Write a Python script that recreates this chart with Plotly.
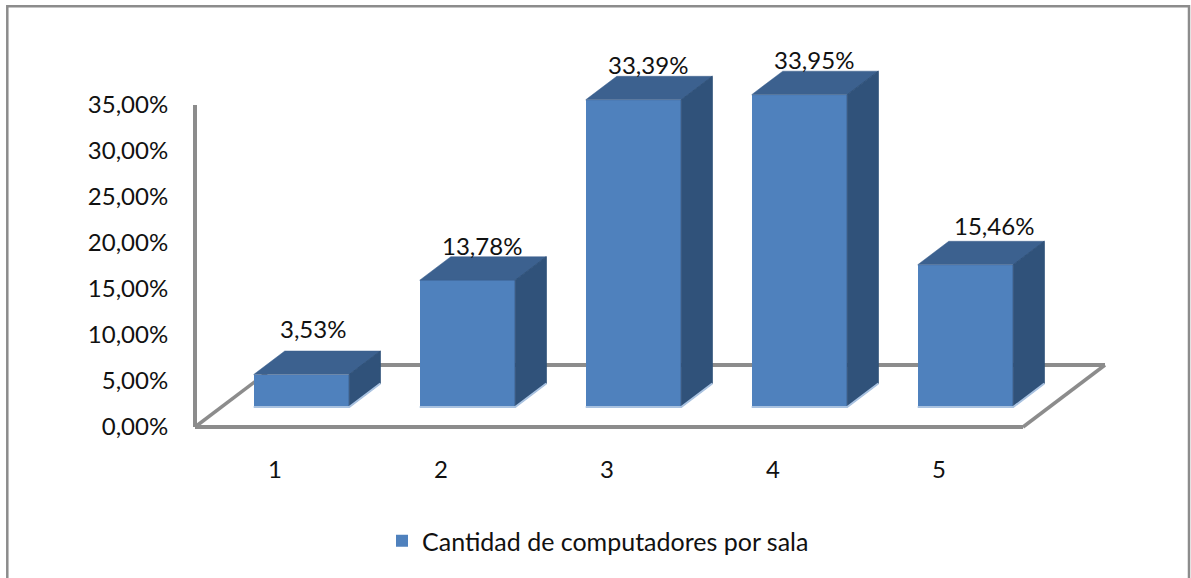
import plotly.graph_objects as go

categories = [1, 2, 3, 4, 5]
values = [3.53, 13.78, 33.39, 33.95, 15.46]
y_ticks = [0, 5, 10, 15, 20, 25, 30, 35]
series_name = "Cantidad de computadores por sala"

# layout constants (pixels)
W, H = 1191, 578
PX_PER_CAT, PX_PER_PCT = 166, 9.2
L, R, T, B = 185, 1115, 45, 435
CAT1_PX, ZERO_PX = 275, 427
FLOOR_DX, FLOOR_DY = 82 / PX_PER_CAT, 62 / PX_PER_PCT  # oblique floor depth in axis units
BAR_W = 95.5 / PX_PER_CAT
D_FRONT, D_BACK = 20 / 62, 43.5 / 62
FLOOR_L, FLOOR_R = 1 - 80 / PX_PER_CAT, 1 + 748 / PX_PER_CAT
# per-label nudges (pixels) of the data labels from the bar's top
label_dx = [12, 15, 15, 15, 29]
label_dy = [46, 35, 35, 35, 39]

FRONT, TOP, SIDE, EDGE, GREY = "#4f81bd", "#3c618f", "#30527a", "#a9c2e0", "#8c8c8c"
FONT = "Lato, Carlito, sans-serif"
FS = 24
TXT = "#111111"

def pct(v):
    return f"{v:.2f}".replace(".", ",") + "%"

def proj(cat, val, depth):
    """Oblique projection of (category, value, depth) onto the 2D axes."""
    return cat + depth * FLOOR_DX, val + depth * FLOOR_DY

def poly(pts):
    xs, ys = zip(*pts)
    return list(xs) + [xs[0], None], list(ys) + [ys[0], None]

top_x, top_y, side_x, side_y, edge_x, edge_y = [], [], [], [], [], []
for c, v in zip(categories, values):
    l, r = c - BAR_W / 2, c + BAR_W / 2
    x, y = poly([proj(l, v, D_FRONT), proj(r, v, D_FRONT), proj(r, v, D_BACK), proj(l, v, D_BACK)])
    top_x += x; top_y += y
    x, y = poly([proj(r, 0, D_FRONT), proj(r, v, D_FRONT), proj(r, v, D_BACK), proj(r, 0, D_BACK)])
    side_x += x; side_y += y
    for p in (proj(l, 0, D_FRONT), proj(r, 0, D_FRONT), proj(r, 0, D_BACK)):
        edge_x.append(p[0]); edge_y.append(p[1])
    edge_x.append(None); edge_y.append(None)

fig = go.Figure()
fig.add_trace(go.Bar(
    x=[proj(c, 0, D_FRONT)[0] for c in categories], y=values,
    base=proj(0, 0, D_FRONT)[1], width=BAR_W,
    marker=dict(color=FRONT, line=dict(width=0)), name=series_name, showlegend=True, hoverinfo="skip",
))
fig.add_trace(go.Scatter(x=top_x, y=top_y, mode="lines", fill="toself", fillcolor=TOP,
                         line=dict(width=0.5, color=TOP), showlegend=False, hoverinfo="skip"))
fig.add_trace(go.Scatter(x=side_x, y=side_y, mode="lines", fill="toself", fillcolor=SIDE,
                         line=dict(width=1, color=SIDE), showlegend=False, hoverinfo="skip"))
fig.add_trace(go.Scatter(x=edge_x, y=edge_y, mode="lines", line=dict(width=2, color=EDGE),
                         showlegend=False, hoverinfo="skip"))

# floor and axis wall, beneath the bars
floor = [
    (proj(FLOOR_L, 0, 0), proj(FLOOR_R, 0, 0), 4),
    (proj(FLOOR_L, 0, 1), proj(FLOOR_R, 0, 1), 4),
    (proj(FLOOR_L, 0, 0), proj(FLOOR_L, 0, 1), 3.5),
    (proj(FLOOR_R, 0, 0), proj(FLOOR_R, 0, 1), 3.5),
    (proj(FLOOR_L, 0, 0), proj(FLOOR_L, y_ticks[-1], 0), 4),
]
shapes = [dict(type="line", xref="x", yref="y", layer="below", x0=a[0], y0=a[1], x1=b[0], y1=b[1],
               line=dict(color=GREY, width=w)) for a, b, w in floor]

# outer chart frame (open at the bottom edge of the picture)
shapes.append(dict(type="path", xref="paper", yref="paper", layer="below",
                   path="M {0},{1} L {0},{2} L {3},{2} L {3},{1}".format(
                       (7.3 - L) / (R - L), (B - 590) / (B - T),
                       (B - 6.2) / (B - T), (1189 - L) / (R - L)),
                   line=dict(color=GREY, width=2.5)))

annotations = []
for c, v, dx, dy in zip(categories, values, label_dx, label_dy):
    x, y = proj(c, v, D_FRONT)
    annotations.append(dict(x=x, y=y, xref="x", yref="y", text=pct(v),
                            showarrow=False, xshift=dx, yshift=dy, xanchor="center", yanchor="middle",
                            font=dict(family=FONT, size=FS, color=TXT)))

fig.update_layout(
    width=W, height=H, autosize=False,
    margin=dict(l=L, r=W - R, t=T, b=H - B, pad=0),
    paper_bgcolor="white", plot_bgcolor="white",
    bargap=0, barmode="overlay",
    shapes=shapes, annotations=annotations,
    font=dict(family=FONT, size=FS, color=TXT),
    legend=dict(orientation="h", x=(382 - L) / (R - L), xanchor="left",
                y=(B - 541) / (B - T), yanchor="middle",
                font=dict(family=FONT, size=25, color=TXT), bgcolor="rgba(0,0,0,0)"),
    xaxis=dict(range=[1 + (L - CAT1_PX) / PX_PER_CAT, 1 + (R - CAT1_PX) / PX_PER_CAT],
               tickmode="array", tickvals=categories, ticktext=[str(c) for c in categories],
               showgrid=False, zeroline=False, showline=False,
               ticks="outside", ticklen=13, tickcolor="rgba(0,0,0,0)", tickfont=dict(size=FS)),
    yaxis=dict(range=[(ZERO_PX - B) / PX_PER_PCT, (ZERO_PX - T) / PX_PER_PCT],
               tickmode="array", tickvals=y_ticks, ticktext=[pct(t) for t in y_ticks],
               showgrid=False, zeroline=False, showline=False,
               ticks="outside", ticklen=11, tickcolor="rgba(0,0,0,0)", tickfont=dict(size=FS)),
)

fig.write_html("out.html", post_script="document.body.style.margin='0';",
               config={"displayModeBar": False})
